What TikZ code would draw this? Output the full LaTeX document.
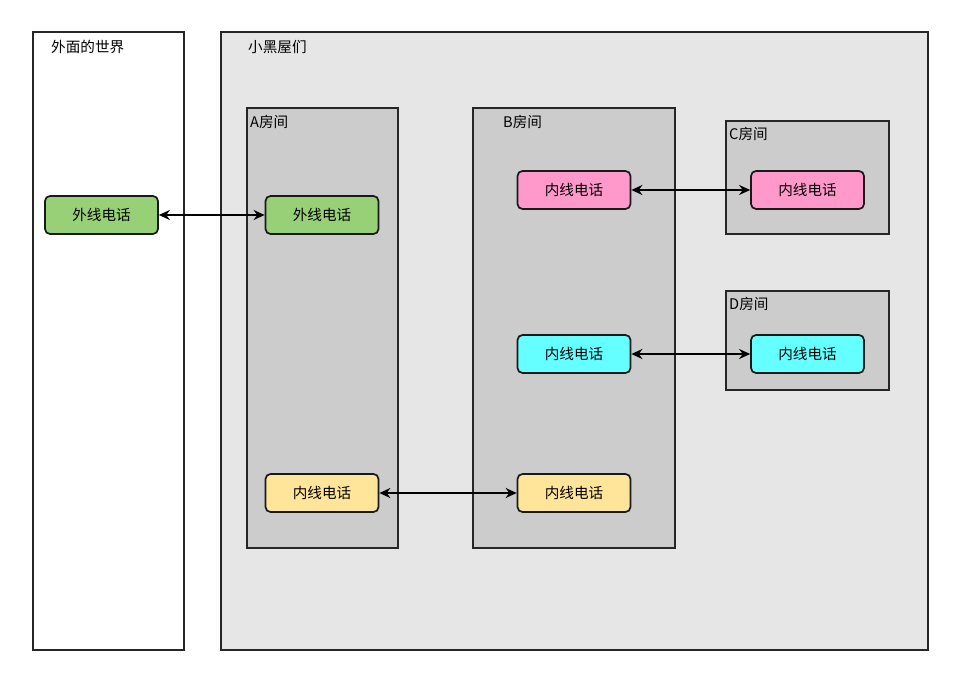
\documentclass[tikz,border=0pt]{standalone}
\usepackage{fontspec}
\setmainfont{Noto Sans CJK SC}
\usetikzlibrary{arrows.meta}
\definecolor{outerbg}{HTML}{E6E6E6}
\definecolor{roombg}{HTML}{CCCCCC}
\definecolor{greenf}{HTML}{97D077}
\definecolor{pinkf}{HTML}{FF99CC}
\definecolor{cyanf}{HTML}{66FFFF}
\definecolor{yellowf}{HTML}{FFE599}
\tikzset{
  region/.style={draw=black!85, line width=1.7pt, inner sep=0pt},
  phone/.style={draw=black!90, line width=1.7pt, rounded corners=5pt, minimum width=113pt, minimum height=38pt, inner sep=0pt, font=\fontsize{14.6pt}{16pt}\selectfont},
  lbl/.style={anchor=west, inner sep=0pt, font=\fontsize{14.6pt}{16pt}\selectfont},
  link/.style={line width=2.2pt, {Stealth[length=11pt,width=10pt]}-{Stealth[length=11pt,width=10pt]}}
}
\begin{document}
\begin{tikzpicture}[x=1pt,y=-1pt]
\useasboundingbox[fill=white] (0,0) rectangle (960,692);
% containers
\draw[region, fill=white] (33,32) rectangle (184,650);
\node[lbl] (worldlbl) at (51,47) {外面的世界};
\draw[region, fill=outerbg] (221,32) rectangle (928,650);
\node[lbl] (houselbl) at (248,47) {小黑屋们};
\draw[region, fill=roombg] (247,108) rectangle (398,548);
\node[lbl] (albl) at (250,122) {A房间};
\draw[region, fill=roombg] (473,108) rectangle (675,548);
\node[lbl] (blbl) at (503,122) {B房间};
\draw[region, fill=roombg] (726,121) rectangle (889,234);
\node[lbl] (clbl) at (729,134) {C房间};
\draw[region, fill=roombg] (726,291) rectangle (889,390);
\node[lbl] (dlbl) at (729,304) {D房间};
% phones
\node[phone, fill=greenf] (w) at (101.5,215) {外线电话};
\node[phone, fill=greenf] (ag) at (322,215) {外线电话};
\node[phone, fill=pinkf] (bp) at (574,190) {内线电话};
\node[phone, fill=pinkf] (cp) at (807.5,190) {内线电话};
\node[phone, fill=cyanf] (bc) at (574,354) {内线电话};
\node[phone, fill=cyanf] (dc) at (807.5,354) {内线电话};
\node[phone, fill=yellowf] (ay) at (322,493) {内线电话};
\node[phone, fill=yellowf] (by) at (574,493) {内线电话};
% links
\draw[link] (w) -- (ag);
\draw[link] (bp) -- (cp);
\draw[link] (bc) -- (dc);
\draw[link] (ay) -- (by);
\end{tikzpicture}
\end{document}
